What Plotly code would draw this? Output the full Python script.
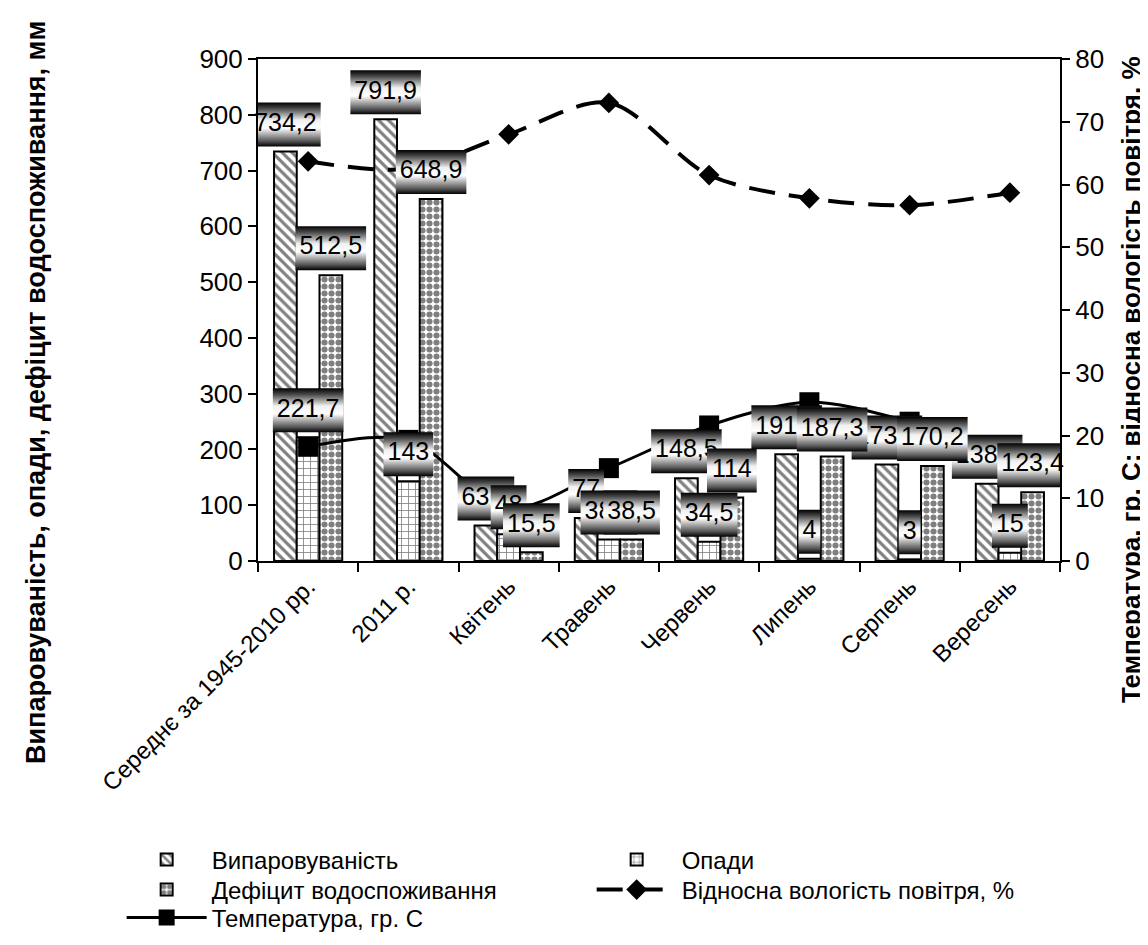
import plotly.graph_objects as go

categories = ["Середнє за 1945-2010 рр.", "2011 р.", "Квітень", "Травень",
              "Червень", "Липень", "Серпень", "Вересень"]
evaporation = [734.2, 791.9, 63.5, 77, 148.5, 191.3, 173.2, 138.4]
precipitation = [221.7, 143, 48, 38.5, 34.5, 4, 3, 15]
deficit = [512.5, 648.9, 15.5, 38.5, 114, 187.3, 170.2, 123.4]
humidity = [63.7, 62.5, 68.0, 73.0, 61.5, 57.8, 56.7, 58.7]
temperature = [18.2, 19.3, 8.5, 14.8, 21.6, 25.3, 22.2, 17.0]

names = ["Випаровуваність", "Опади", "Дефіцит водоспоживання",
         "Відносна вологість повітря, %", "Температура, гр. С"]
legend_ids = ["legend", "legend", "legend2", "legend2", "legend3"]

W, H = 1148, 945
ML, MR, MT, MB = 250, 96, 51, 392
Y1MAX, Y2MAX = 900, 80
BARGAP = 0.32
FONT = "Liberation Sans, Arial, sans-serif"
LBL_FS = 25
TICK_FS = 26

fig = go.Figure()
xs = list(range(len(categories)))

patterns = [
    dict(shape="\\", fgcolor="black", bgcolor="white", size=7, solidity=0.45),
    dict(shape="+", fgcolor="black", bgcolor="white", size=7, solidity=0.22),
    dict(shape=".", fgcolor="black", bgcolor="white", size=7, solidity=0.6),
]
series = [evaporation, precipitation, deficit]
for k, vals in enumerate(series):
    fig.add_trace(go.Bar(
        x=xs, y=vals, name=names[k], legend=legend_ids[k],
        marker=dict(color="white", pattern=patterns[k],
                    line=dict(color="black", width=2)),
        yaxis="y",
    ))

fig.add_trace(go.Scatter(
    x=xs, y=humidity, name=names[3], yaxis="y2", mode="lines+markers",
    legend=legend_ids[3],
    line=dict(color="black", width=4, dash="26px,14px", shape="spline", smoothing=0.9),
    marker=dict(symbol="diamond", size=16, color="black"),
))
fig.add_trace(go.Scatter(
    x=xs, y=temperature, name=names[4], yaxis="y2", mode="lines+markers",
    legend=legend_ids[4],
    line=dict(color="black", width=3, shape="spline", smoothing=0.9),
    marker=dict(symbol="square", size=20, color="black"),
))

# data label boxes (gradient) + text, derived from the bar values
plot_w = W - ML - MR
plot_h = H - MT - MB
px_x = plot_w / len(categories)          # px per x unit
u_y = Y1MAX / plot_h                     # left-axis units per px
k2 = Y2MAX / Y1MAX
bw = (1 - BARGAP) / 3


def text_w(s):
    return sum((0.278 if ch in ",." else 0.556) * LBL_FS for ch in s)


grad = [[0, "#000000"], [0.12, "#555555"], [0.42, "#ffffff"], [0.6, "#f0f0f0"],
        [0.86, "#4a4a4a"], [1, "#000000"]]
for k, vals in enumerate(series):
    for i, v in enumerate(vals):
        lbl = f"{v:g}".replace(".", ",")
        xc = i + (k - 1) * bw
        half = (text_w(lbl) / 2 + 4) / px_x
        yb = v + 5 * u_y
        yt = yb + 44 * u_y
        fig.add_trace(go.Scatter(
            x=[xc - half, xc + half, xc + half, xc - half, xc - half],
            y=[yb * k2, yb * k2, yt * k2, yt * k2, yb * k2],
            yaxis="y2", mode="lines", fill="toself", line=dict(width=0),
            fillgradient=dict(type="vertical", colorscale=grad),
            showlegend=False, hoverinfo="skip",
        ))
        fig.add_trace(go.Scatter(
            x=[xc], y=[(yb + yt) / 2 * k2], yaxis="y2", mode="text",
            text=[lbl], textposition="middle center",
            textfont=dict(family=FONT, size=LBL_FS, color="black"),
            showlegend=False, hoverinfo="skip", cliponaxis=False,
        ))

axis_common = dict(showline=True, linecolor="black", linewidth=2,
                   ticks="outside", ticklen=8, tickwidth=2, tickcolor="black",
                   showgrid=False, zeroline=False,
                   tickfont=dict(family=FONT, size=TICK_FS, color="black"))

leg_common = dict(orientation="h", x=-0.17, xanchor="left", yanchor="middle",
                  entrywidth=375, entrywidthmode="pixels", itemwidth=80,
                  font=dict(family=FONT, size=24, color="black"),
                  traceorder="normal", bgcolor="rgba(0,0,0,0)")


def leg_y(py):
    return (H - MB - py) / plot_h


fig.update_layout(
    width=W, height=H, autosize=False,
    margin=dict(l=ML, r=MR, t=MT, b=MB, pad=0),
    paper_bgcolor="white", plot_bgcolor="white",
    barmode="group", bargap=BARGAP, bargroupgap=0,
    font=dict(family=FONT, color="black"),
    xaxis=dict(range=[-0.5, len(categories) - 0.5], tickmode="array",
               tickvals=xs, ticktext=categories, tickangle=-45,
               showline=True, linecolor="black", linewidth=2, mirror=True,
               ticks="", showgrid=False, zeroline=False,
               tickfont=dict(family=FONT, size=24, color="black"),
               minor=dict(tickmode="linear", tick0=-0.5, dtick=1, ticks="outside",
                          ticklen=9, tickwidth=2, tickcolor="black", showgrid=False)),
    yaxis=dict(range=[0, Y1MAX], dtick=100, **axis_common),
    yaxis2=dict(range=[0, Y2MAX], dtick=10, overlaying="y", side="right", **axis_common),
    legend=dict(y=leg_y(852), **leg_common),
    legend2=dict(y=leg_y(882), **leg_common),
    legend3=dict(y=leg_y(910), **leg_common),
    showlegend=True,
    annotations=[
        dict(text="<b>Випаровуваність, опади, дефіцит водоспоживання, мм</b>",
             xref="paper", yref="paper", x=(28 - ML) / plot_w, y=(H - MB - 385) / plot_h,
             textangle=-90, showarrow=False, xanchor="center", yanchor="middle",
             font=dict(family=FONT, size=27, color="black")),
        dict(text="<b>Температура, гр. С; відносна вологість повітря, %</b>",
             xref="paper", yref="paper", x=(1123 - ML) / plot_w, y=(H - MB - 372) / plot_h,
             textangle=-90, showarrow=False, xanchor="center", yanchor="middle",
             font=dict(family=FONT, size=26, color="black")),
    ],
)

fig.write_html("out.html")
